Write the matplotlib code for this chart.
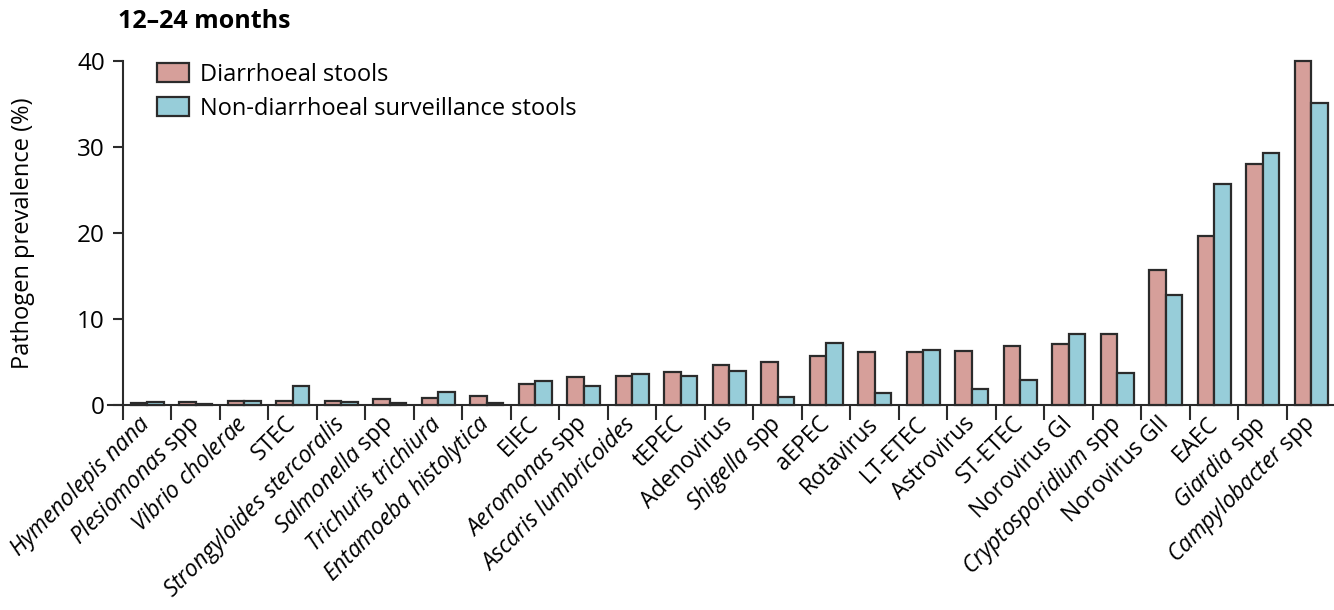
import matplotlib
matplotlib.use("Agg")
import matplotlib.pyplot as plt
import numpy as np

plt.rcParams['font.family'] = ['Open Sans', 'DejaVu Sans']
plt.rcParams['mathtext.fontset'] = 'custom'
plt.rcParams['mathtext.rm'] = 'Open Sans'
plt.rcParams['mathtext.it'] = 'Open Sans:italic'
plt.rcParams['mathtext.bf'] = 'Open Sans:bold'

categories = [
    r"$\mathit{Hymenolepis\ nana}$",
    r"$\mathit{Plesiomonas}$ spp",
    r"$\mathit{Vibrio\ cholerae}$",
    "STEC",
    r"$\mathit{Strongyloides\ stercoralis}$",
    r"$\mathit{Salmonella}$ spp",
    r"$\mathit{Trichuris\ trichiura}$",
    r"$\mathit{Entamoeba\ histolytica}$",
    "EIEC",
    r"$\mathit{Aeromonas}$ spp",
    r"$\mathit{Ascaris\ lumbricoides}$",
    "tEPEC",
    "Adenovirus",
    r"$\mathit{Shigella}$ spp",
    "aEPEC",
    "Rotavirus",
    "LT-ETEC",
    "Astrovirus",
    "ST-ETEC",
    "Norovirus GI",
    r"$\mathit{Cryptosporidium}$ spp",
    "Norovirus GII",
    "EAEC",
    r"$\mathit{Giardia}$ spp",
    r"$\mathit{Campylobacter}$ spp",
]
diarrhoeal = [0.2, 0.4, 0.45, 0.5, 0.5, 0.7, 0.85, 1.1, 2.4, 3.3, 3.35, 3.85,
              4.65, 4.95, 5.75, 6.2, 6.2, 6.25, 6.9, 7.1, 8.26, 15.66, 19.7, 28.0, 40.0]
surveillance = [0.4, 0.1, 0.45, 2.2, 0.3, 0.25, 1.5, 0.2, 2.8, 2.2, 3.65, 3.4,
                3.9, 0.98, 7.2, 1.4, 6.4, 1.83, 2.95, 8.22, 3.77, 12.8, 25.7, 29.35, 35.1]
yticks = [0, 10, 20, 30, 40]

red = '#D69F9A'
blue = '#97CDD9'
edge = '#2b2b2b'
FS = 17

fig = plt.figure(figsize=(13.34, 6.10), dpi=100)
ax = fig.add_axes([108/1334, 1 - 405/610, 1 - 108/1334, (405 - 61)/610])

x = np.arange(len(categories))
w = 0.34
ax.bar(x - w/2, diarrhoeal, w, color=red, edgecolor=edge, linewidth=1.6,
       label='Diarrhoeal stools', clip_on=False, zorder=3)
ax.bar(x + w/2, surveillance, w, color=blue, edgecolor=edge, linewidth=1.6,
       label='Non-diarrhoeal surveillance stools', clip_on=False, zorder=3)

ax.set_xlim(-0.809, 24.47)
ax.set_ylim(0, 40)
ax.spines['top'].set_visible(False)
ax.spines['right'].set_visible(False)
ax.spines['left'].set_position(('data', -0.5))
for s in ('left', 'bottom'):
    ax.spines[s].set_linewidth(1.5)
    ax.spines[s].set_color(edge)

ax.set_yticks(yticks)
ax.set_yticklabels([str(v) for v in yticks], fontsize=FS + 0.5)
ax.tick_params(axis='y', length=7, width=1.5, color=edge, pad=6)

ax.set_xticks(x)
ax.set_xticklabels(categories, fontsize=16.3, rotation=45, ha='right',
                   va='center', rotation_mode='anchor')
ax.set_xticks(np.arange(-0.5, 24.0, 1.0), minor=True)
ax.tick_params(axis='x', which='major', length=0, pad=11)
ax.tick_params(axis='x', which='minor', length=11, width=1.5, color=edge)

ax.set_ylabel('Pathogen prevalence (%)', fontsize=FS, labelpad=30)

fig.text(118/1334, 1 - 21/610, '12–24 months', fontsize=18, fontweight='bold',
         ha='left', va='center')

fig.legend(loc='upper left', bbox_to_anchor=(157/1334, 1 - 63/610), frameon=False,
           fontsize=FS, handlelength=1.35, handleheight=0.85, handletextpad=0.45,
           labelspacing=0.42, borderpad=0, borderaxespad=0)

fig.savefig('out.png', dpi=100)
